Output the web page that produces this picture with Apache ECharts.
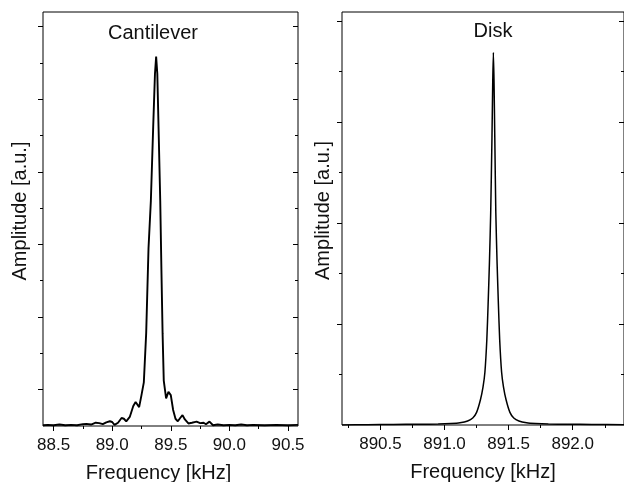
<!DOCTYPE html>
<html>
<head>
<meta charset="utf-8">
<script src="https://cdn.jsdelivr.net/npm/echarts@6/dist/echarts.min.js"></script>
<style>html,body{margin:0;padding:0;background:#fff}#c{width:624px;height:482px}</style>
</head>
<body>
<div id="c"></div>
<script>
// ---- Data ----
const cantFreq = [88.41,88.45,88.50,88.55,88.60,88.65,88.70,88.75,88.78,88.82,88.86,88.89,88.92,88.95,88.98,89.00,89.02,89.05,89.08,89.10,89.12,89.15,89.18,89.20,89.23,89.25,89.27,89.29,89.31,89.33,89.35,89.365,89.375,89.385,89.395,89.41,89.42,89.43,89.44,89.46,89.48,89.49,89.50,89.52,89.54,89.56,89.58,89.60,89.62,89.65,89.68,89.72,89.75,89.78,89.80,89.83,89.86,89.90,89.95,90.00,90.05,90.10,90.15,90.20,90.30,90.40,90.50,90.585];
const cantAmp  = [0.02,0.03,0.02,0.04,0.02,0.03,0.02,0.05,0.06,0.04,0.09,0.08,0.05,0.10,0.13,0.11,0.03,0.09,0.22,0.20,0.13,0.25,0.55,0.66,0.52,0.85,1.20,2.55,4.9,6.2,8.25,9.7,10.17,9.7,8.3,6.2,4.3,2.55,1.25,0.76,0.94,0.90,0.85,0.44,0.20,0.13,0.22,0.30,0.18,0.07,0.09,0.12,0.08,0.09,0.05,0.12,0.02,0.04,0.02,0.03,0.02,0.04,0.02,0.03,0.02,0.03,0.02,0.03];

const diskFreq = [890.20,890.40,890.60,890.80,890.95,891.05,891.12,891.18,891.22,891.25,891.28,891.30,891.315,891.33,891.34,891.35,891.36,891.37,891.376,891.381,891.386,891.392,891.40,891.41,891.42,891.43,891.445,891.46,891.48,891.51,891.54,891.58,891.64,891.71,891.81,891.96,892.15,892.40];
const diskAmp  = [0.00,0.005,0.01,0.015,0.02,0.03,0.045,0.08,0.14,0.25,0.5,0.75,1.05,1.7,2.4,3.2,4.2,5.7,6.8,7.38,6.8,5.7,4.2,3.2,2.4,1.7,1.05,0.75,0.5,0.25,0.14,0.08,0.045,0.03,0.02,0.015,0.01,0.005];

// tick positions
const cantXLabels = [88.5, 89.0, 89.5, 90.0, 90.5];
const cantXMinor  = [88.75, 89.25, 89.75, 90.25];
const cantYMajor  = [1, 3, 5, 7, 9, 11];
const cantYMinor  = [2, 4, 6, 8, 10];
const diskXLabels = [890.5, 891.0, 891.5, 892.0];
const diskXMinor  = [890.25, 890.75, 891.25, 891.75, 892.25];
const diskYMajor  = [2, 4, 6, 8];
const diskYMinor  = [1, 3, 5, 7];

const titles = ['Cantilever', 'Disk'];
const xName = 'Frequency [kHz]';
const yName = 'Amplitude [a.u.]';

// ---- Chart ----
const FONT = 'Liberation Sans, Arial, Helvetica, sans-serif';
const MAJ = 5, MIN = 3;

function xAx(grid, min, max, pos, vals, len, main, labels, namePad) {
  const a = {
    type: 'value', gridIndex: grid, min: min, max: max, position: pos,
    splitLine: {show: false},
    axisLine: {show: false},
    axisTick: {show: true, inside: pos === 'top', length: len, customValues: vals,
               lineStyle: {color: '#000', width: 1}},
    axisLabel: {show: false}
  };
  if (main) {
    a.axisLabel = {show: true, customValues: labels, margin: 11, fontSize: 17, color: '#111',
                   fontFamily: FONT, formatter: v => Number(v).toFixed(1)};
    a.name = xName; a.nameLocation = 'middle'; a.nameGap = 37;
    a.nameTextStyle = {fontSize: 20, color: '#111', fontFamily: FONT, padding: namePad};
  }
  return a;
}
function yAx(grid, max, pos, vals, len, main, nameGap) {
  const a = {
    type: 'value', gridIndex: grid, min: 0, max: max, position: pos,
    splitLine: {show: false},
    axisLine: {show: false},
    axisTick: {show: true, inside: pos === 'right', length: len, customValues: vals,
               lineStyle: {color: '#000', width: 1}},
    axisLabel: {show: false}
  };
  if (main) {
    a.name = yName; a.nameLocation = 'middle'; a.nameGap = nameGap;
    a.nameTextStyle = {fontSize: 20, color: '#111', fontFamily: FONT, padding: [0, 0, 0, 16]};
  }
  return a;
}

const cMin = 88.41, cMax = 90.585, dMin = 890.2, dMax = 892.4;
const cYMax = 11.4, dYMax = 8.18;

const option = {
  animation: false,
  backgroundColor: '#fff',
  grid: [
    {left: 43, right: 326, top: 12, bottom: 56, show: true, borderColor: '#000', borderWidth: 1,
     containLabel: false, outerBoundsMode: 'none'},
    {left: 342, right: 0, top: 12, bottom: 57, show: true, borderColor: '#000', borderWidth: 1,
     containLabel: false, outerBoundsMode: 'none'}
  ],
  xAxis: [
    xAx(0, cMin, cMax, 'bottom', cantXLabels, MAJ, true, cantXLabels, [0, 24, 0, 0]),
    xAx(0, cMin, cMax, 'bottom', cantXMinor, MIN, false),
    xAx(0, cMin, cMax, 'top', cantXLabels, MAJ, false),
    xAx(0, cMin, cMax, 'top', cantXMinor, MIN, false),
    xAx(1, dMin, dMax, 'bottom', diskXLabels, MAJ, true, diskXLabels, [0, 0, 0, 0]),
    xAx(1, dMin, dMax, 'bottom', diskXMinor, MIN, false),
    xAx(1, dMin, dMax, 'top', diskXLabels, MAJ, false),
    xAx(1, dMin, dMax, 'top', diskXMinor, MIN, false)
  ],
  yAxis: [
    yAx(0, cYMax, 'left', cantYMajor, MAJ, true, 13),
    yAx(0, cYMax, 'left', cantYMinor, MIN, false),
    yAx(0, cYMax, 'right', cantYMajor, MAJ, false),
    yAx(0, cYMax, 'right', cantYMinor, MIN, false),
    yAx(1, dYMax, 'left', diskYMajor, MAJ, true, 9),
    yAx(1, dYMax, 'left', diskYMinor, MIN, false),
    yAx(1, dYMax, 'right', diskYMajor, MAJ, false),
    yAx(1, dYMax, 'right', diskYMinor, MIN, false)
  ],
  graphic: [
    {type: 'text', x: 153, y: 33, style: {text: titles[0], fontSize: 20, fontFamily: FONT, fill: '#111', textAlign: 'center', textVerticalAlign: 'middle'}},
    {type: 'text', x: 493, y: 31, style: {text: titles[1], fontSize: 20, fontFamily: FONT, fill: '#111', textAlign: 'center', textVerticalAlign: 'middle'}}
  ],
  series: [
    {type: 'line', xAxisIndex: 0, yAxisIndex: 0, showSymbol: false, symbol: 'none',
     data: cantFreq.map((f, i) => [f, cantAmp[i]]),
     lineStyle: {color: '#000', width: 1.9}, itemStyle: {color: '#000'}},
    {type: 'line', xAxisIndex: 4, yAxisIndex: 4, showSymbol: false, symbol: 'none', smooth: 0.2,
     data: diskFreq.map((f, i) => [f, diskAmp[i]]),
     lineStyle: {color: '#000', width: 1.5}, itemStyle: {color: '#000'}}
  ]
};
const chart = echarts.init(document.getElementById('c'), null, {renderer: 'canvas'});
chart.setOption(option);
</script>
</body>
</html>
